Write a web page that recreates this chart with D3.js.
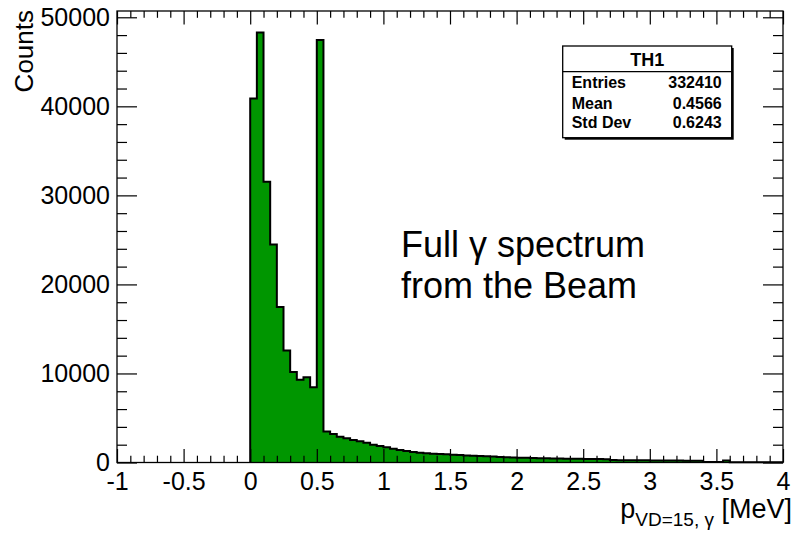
<!DOCTYPE html>
<html>
<head>
<meta charset="utf-8">
<script src="https://cdn.jsdelivr.net/npm/d3@7/dist/d3.min.js"></script>
<style>
  html, body { margin: 0; padding: 0; background: #fff; }
  svg { display: block; font-family: "Liberation Sans", Arial, Helvetica, sans-serif; }
</style>
</head>
<body>
<svg id="chart" width="798" height="552"></svg>
<script>
// Histogram of photon momentum: 0.05 MeV bins starting at 0 (bins below 0 are empty)
const binStart = 0.0;
const binWidth = 0.05;
const counts = [
  40890, 48290, 31520, 24470, 17460, 12580, 10150, 9280, 9580, 8460,
  47450, 3470, 3200, 2900, 2720, 2530, 2380, 2230, 2000, 1860,
  1710, 1550, 1400, 1290, 1180, 1100, 1030, 990, 960, 920,
  870, 830, 790, 760, 720, 690, 660, 630, 600, 570,
  540, 520, 500, 480, 470, 450, 440, 430, 420, 410,
  400, 390, 380, 370, 270, 260, 255, 250, 245, 240,
  235, 230, 225, 220, 215, 210, 205, 200, 70, 60,
  50, 230, 40, 35, 30, 30, 25, 25, 20, 20
];

const xMajorTicks = [-1, -0.5, 0, 0.5, 1, 1.5, 2, 2.5, 3, 3.5, 4];
const xTickLabels = ["-1", "-0.5", "0", "0.5", "1", "1.5", "2", "2.5", "3", "3.5", "4"];
const yMajorTicks = [0, 10000, 20000, 30000, 40000, 50000];
const yTickLabels = ["0", "10000", "20000", "30000", "40000", "50000"];

const statsTitle = "TH1";
const statsNames = ["Entries", "Mean", "Std Dev"];
const statsValues = ["332410", "0.4566", "0.6243"];

const noteLines = ["Full \u03b3 spectrum", "from the Beam"];

const xDomain = [-1, 4];
const yDomain = [0, 50706];

const svg = d3.select("#chart");
svg.append("rect").attr("width", 798).attr("height", 552).attr("fill", "#fff");

const L = 117, R = 783, T = 11, B = 462.5;
const x = d3.scaleLinear().domain(xDomain).range([L, R]);
const y = d3.scaleLinear().domain(yDomain).range([B, T]);

// histogram as step points
const pts = [{x: binStart, c: 0}];
counts.forEach((c, i) => pts.push({x: binStart + i * binWidth, c}));
pts.push({x: binStart + counts.length * binWidth, c: counts[counts.length - 1]});

const area = d3.area().curve(d3.curveStepAfter)
  .x(d => x(d.x)).y0(y(0)).y1(d => y(d.c));
const line = d3.line().curve(d3.curveStepAfter)
  .x(d => x(d.x)).y(d => y(d.c));

svg.append("path").datum(pts).attr("d", area).attr("fill", "#009600");
svg.append("path").datum(pts).attr("d", line)
  .attr("fill", "none").attr("stroke", "#000").attr("stroke-width", 2);

// axes with ticks on all four sides
const xMinor = d3.range(-10, 41).map(v => v / 10).filter(v => !xMajorTicks.some(m => Math.abs(m - v) < 1e-9));
const yMinor = d3.range(0, 51, 2).map(v => v * 1000).filter(v => v % 10000 !== 0);

function styleAxis(g) {
  g.select(".domain").remove();
  g.selectAll("line").attr("stroke", "#000").attr("stroke-width", 1.2);
  g.selectAll("text").attr("fill", "#000");
}

const xFmt = d => xTickLabels[xMajorTicks.indexOf(d)];
const yFmt = d => yTickLabels[yMajorTicks.indexOf(d)];

svg.append("g").attr("transform", `translate(0,${B})`)
  .call(d3.axisBottom(x).tickValues(xMajorTicks).tickFormat(xFmt).tickSize(-13.5).tickPadding(10))
  .call(styleAxis)
  .call(g => g.selectAll("text").attr("font-size", 25).attr("font-family", "Liberation Sans, Arial, sans-serif"));
svg.append("g").attr("transform", `translate(0,${B})`)
  .call(d3.axisBottom(x).tickValues(xMinor).tickFormat("").tickSize(-6.8))
  .call(styleAxis);
svg.append("g").attr("transform", `translate(0,${T})`)
  .call(d3.axisTop(x).tickValues(xMajorTicks).tickFormat("").tickSize(-13.5))
  .call(styleAxis);
svg.append("g").attr("transform", `translate(0,${T})`)
  .call(d3.axisTop(x).tickValues(xMinor).tickFormat("").tickSize(-6.8))
  .call(styleAxis);

svg.append("g").attr("transform", `translate(${L},0)`)
  .call(d3.axisLeft(y).tickValues(yMajorTicks).tickFormat(yFmt).tickSize(-20).tickPadding(7))
  .call(styleAxis)
  .call(g => g.selectAll("text").attr("font-size", 25).attr("font-family", "Liberation Sans, Arial, sans-serif"));
svg.append("g").attr("transform", `translate(${L},0)`)
  .call(d3.axisLeft(y).tickValues(yMinor).tickFormat("").tickSize(-10))
  .call(styleAxis);
svg.append("g").attr("transform", `translate(${R},0)`)
  .call(d3.axisRight(y).tickValues(yMajorTicks).tickFormat("").tickSize(-20))
  .call(styleAxis);
svg.append("g").attr("transform", `translate(${R},0)`)
  .call(d3.axisRight(y).tickValues(yMinor).tickFormat("").tickSize(-10))
  .call(styleAxis);

// frame
svg.append("rect").attr("x", L).attr("y", T).attr("width", R - L).attr("height", B - T)
  .attr("fill", "none").attr("stroke", "#000").attr("stroke-width", 1.3);

// axis titles
svg.append("text").attr("transform", "translate(33,10) rotate(-90)")
  .attr("text-anchor", "end").attr("font-size", 26).attr("fill", "#000").text("Counts");

const xt = svg.append("text").attr("x", 792).attr("y", 518)
  .attr("text-anchor", "end").attr("font-size", 27).attr("fill", "#000");
xt.append("tspan").text("p");
xt.append("tspan").attr("font-size", 19).attr("dy", 8).text("VD=15, \u03b3");
xt.append("tspan").attr("dy", -8).text(" [MeV]");

// stats box
const bx = 562.7, by = 46, bw = 169, bh = 91.7;
svg.append("rect").attr("x", bx + 2).attr("y", by + 2).attr("width", bw).attr("height", bh).attr("fill", "#000");
svg.append("rect").attr("x", bx).attr("y", by).attr("width", bw).attr("height", bh)
  .attr("fill", "#fff").attr("stroke", "#000").attr("stroke-width", 1.3);
svg.append("line").attr("x1", bx).attr("x2", bx + bw).attr("y1", 71.7).attr("y2", 71.7)
  .attr("stroke", "#000").attr("stroke-width", 1.3);
svg.append("text").attr("x", bx + bw / 2).attr("y", 66).attr("text-anchor", "middle")
  .attr("font-size", 18).attr("font-weight", "bold").attr("fill", "#000").text(statsTitle);
const rowBase = [88.3, 108.5, 127.5];
statsNames.forEach((n, i) => {
  svg.append("text").attr("x", 571.7).attr("y", rowBase[i]).attr("font-size", 16)
    .attr("font-weight", "bold").attr("fill", "#000").text(n);
  svg.append("text").attr("x", 721.7).attr("y", rowBase[i]).attr("font-size", 16)
    .attr("text-anchor", "end").attr("font-weight", "bold").attr("fill", "#000").text(statsValues[i]);
});

// annotation
const noteBase = [257, 298];
noteLines.forEach((t, i) => {
  svg.append("text").attr("x", 401).attr("y", noteBase[i]).attr("font-size", 36)
    .attr("font-family", "Liberation Sans, Arial, sans-serif").attr("fill", "#000").text(t);
});
</script>
</body>
</html>
